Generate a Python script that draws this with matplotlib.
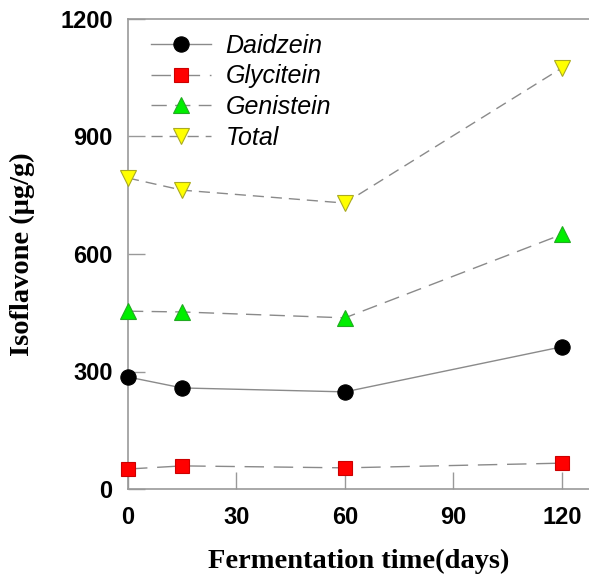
import matplotlib
matplotlib.use("Agg")
import matplotlib.pyplot as plt

days = [0, 15, 60, 120]
daidzein = [286, 258, 248, 363]
glycitein = [51, 59, 54, 66]
genistein = [454, 452, 437, 650]
total = [794, 763, 730, 1075]

series = [
    ("Daidzein", daidzein, "o", "black", "black", "-", 11),
    ("Glycitein", glycitein, "s", "#ff0000", "#cc0000", (0, (14, 7)), 10.5),
    ("Genistein", genistein, "^", "#00ee00", "#22aa22", (0, (11, 6)), 12),
    ("Total", total, "v", "#ffff00", "#aaaa22", (0, (8, 5)), 12),
]

fig = plt.figure(figsize=(5.89, 5.80), dpi=100)
ax = fig.add_axes([128/589, 91/580, 461/589, 470/580])

for name, vals, mk, fc, ec, ls, ms in series:
    ax.plot(days, vals, color="#8a8a8a", lw=1.0, linestyle=ls, marker=mk,
            markersize=ms, markerfacecolor=fc, markeredgecolor=ec,
            markeredgewidth=0.8, label=name, clip_on=False, zorder=3)

ax.set_xlim(0, 127.5)
ax.set_ylim(0, 1200)
ax.set_xticks([0, 30, 60, 90, 120])
ax.set_yticks([0, 300, 600, 900, 1200])

for s in ["left", "bottom", "top"]:
    ax.spines[s].set_color("#999999")
    ax.spines[s].set_linewidth(1.2)
ax.spines["right"].set_visible(False)

ax.tick_params(direction="in", length=12, width=1, color="#999999")
ax.tick_params(axis="y", pad=11)
ax.tick_params(axis="x", pad=12)
for lab in ax.get_xticklabels() + ax.get_yticklabels():
    lab.set_fontfamily("Liberation Sans")
    lab.set_fontweight("bold")
    lab.set_fontsize(17)

ax.set_xlabel("Fermentation time(days)", fontfamily="Liberation Serif",
              fontweight="bold", fontsize=20.5)
ax.set_ylabel("Isoflavone (\u03bcg/g)", fontfamily="Liberation Serif",
              fontweight="bold", fontsize=20.5)
ax.xaxis.set_label_coords(0.5, -60/470, transform=ax.transAxes)
ax.yaxis.set_label_coords(-93/461, 0.5, transform=ax.transAxes)

leg = ax.legend(loc="upper left", bbox_to_anchor=(0.0, 1.017), frameon=False,
                prop={"family": "Liberation Sans", "style": "italic", "size": 18},
                handlelength=2.4, labelspacing=0.27, handletextpad=0.6)

fig.savefig("out.png", dpi=100)
